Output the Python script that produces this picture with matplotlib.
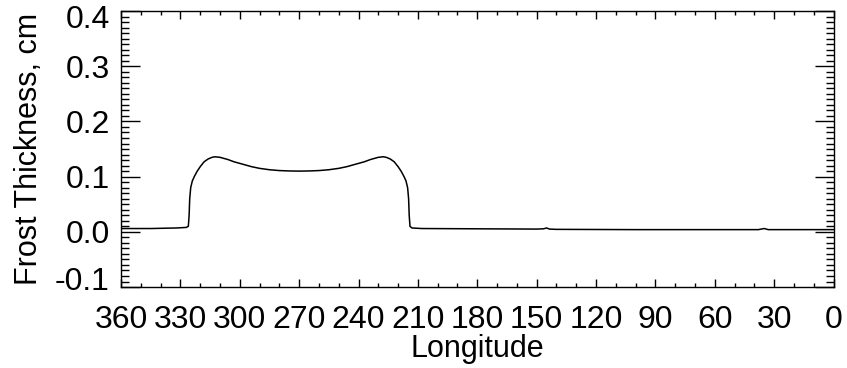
import matplotlib
matplotlib.use("Agg")
import matplotlib.pyplot as plt
import matplotlib.transforms as mtransforms
from matplotlib.ticker import MultipleLocator

plt.rcParams['font.family'] = ['Liberation Sans', 'DejaVu Sans']

longitude = [360, 345, 332, 327, 326, 325.6, 325.3, 324.8, 324, 323, 321.5, 320, 318, 316, 314,
             312.5, 310, 306, 303, 298, 294, 290, 285, 280, 275, 270, 265, 260, 255, 250,
             246, 242, 237, 234, 230, 227.5, 226, 224, 222, 220, 218.5, 217, 216, 215.2,
             214.7, 214.4, 214, 213, 208, 180, 150, 146.5, 145, 143.5, 140, 100, 60, 38,
             35, 33, 20, 0]
thickness = [0.006, 0.006, 0.007, 0.008, 0.010, 0.03, 0.06, 0.08, 0.092, 0.100, 0.110, 0.118,
             0.127, 0.132, 0.135, 0.136, 0.135, 0.131, 0.127, 0.122, 0.118, 0.115, 0.1125,
             0.111, 0.1103, 0.110, 0.1103, 0.111, 0.1125, 0.115, 0.118, 0.122, 0.127, 0.131,
             0.135, 0.136, 0.135, 0.132, 0.127, 0.118, 0.110, 0.100, 0.092, 0.08, 0.06, 0.03,
             0.010, 0.007, 0.006, 0.0055, 0.005, 0.0055, 0.007, 0.005, 0.0045, 0.004, 0.004,
             0.004, 0.006, 0.004, 0.004, 0.004]
x_ticks = [360, 330, 300, 270, 240, 210, 180, 150, 120, 90, 60, 30, 0]
y_ticks = [-0.1, 0.0, 0.1, 0.2, 0.3, 0.4]

fig = plt.figure(figsize=(8.47, 3.68), dpi=100)
ax = fig.add_axes([0.1429, 0.22, 0.8412, 0.75])
ax.plot(longitude, thickness, color='black', linewidth=1.1)
ax.set_xlim(360, 0)
ax.set_ylim(-0.1, 0.4)
ax.set_xticks(x_ticks)
ax.set_xticklabels([str(t) for t in x_ticks])
ax.set_yticks(y_ticks)
ax.set_yticklabels([f"{t:.1f}" for t in y_ticks])
ax.xaxis.set_minor_locator(MultipleLocator(10))
ax.yaxis.set_minor_locator(MultipleLocator(0.01))
ax.tick_params(axis='both', which='both', direction='in', top=True, right=True,
               labelsize=23, width=1.0)
ax.tick_params(axis='x', which='major', length=6, pad=13)
ax.tick_params(axis='x', which='minor', length=3)
ax.tick_params(axis='y', which='major', length=14, pad=8)
ax.tick_params(axis='y', which='minor', length=6)
for s in ax.spines.values():
    s.set_linewidth(1.0)
ax.set_xlabel('Longitude', fontsize=22, labelpad=-1)
ax.set_ylabel('Frost Thickness, cm', fontsize=22, labelpad=8)

# IDL-style: end labels pulled inside the axis range
ylabels = ax.get_yticklabels()
ylabels[0].set_transform(ylabels[0].get_transform() +
                         mtransforms.ScaledTranslation(0, 9 / 100, fig.dpi_scale_trans))
ylabels[-1].set_transform(ylabels[-1].get_transform() +
                          mtransforms.ScaledTranslation(0, -5 / 100, fig.dpi_scale_trans))

fig.savefig('out.png', dpi=100)
